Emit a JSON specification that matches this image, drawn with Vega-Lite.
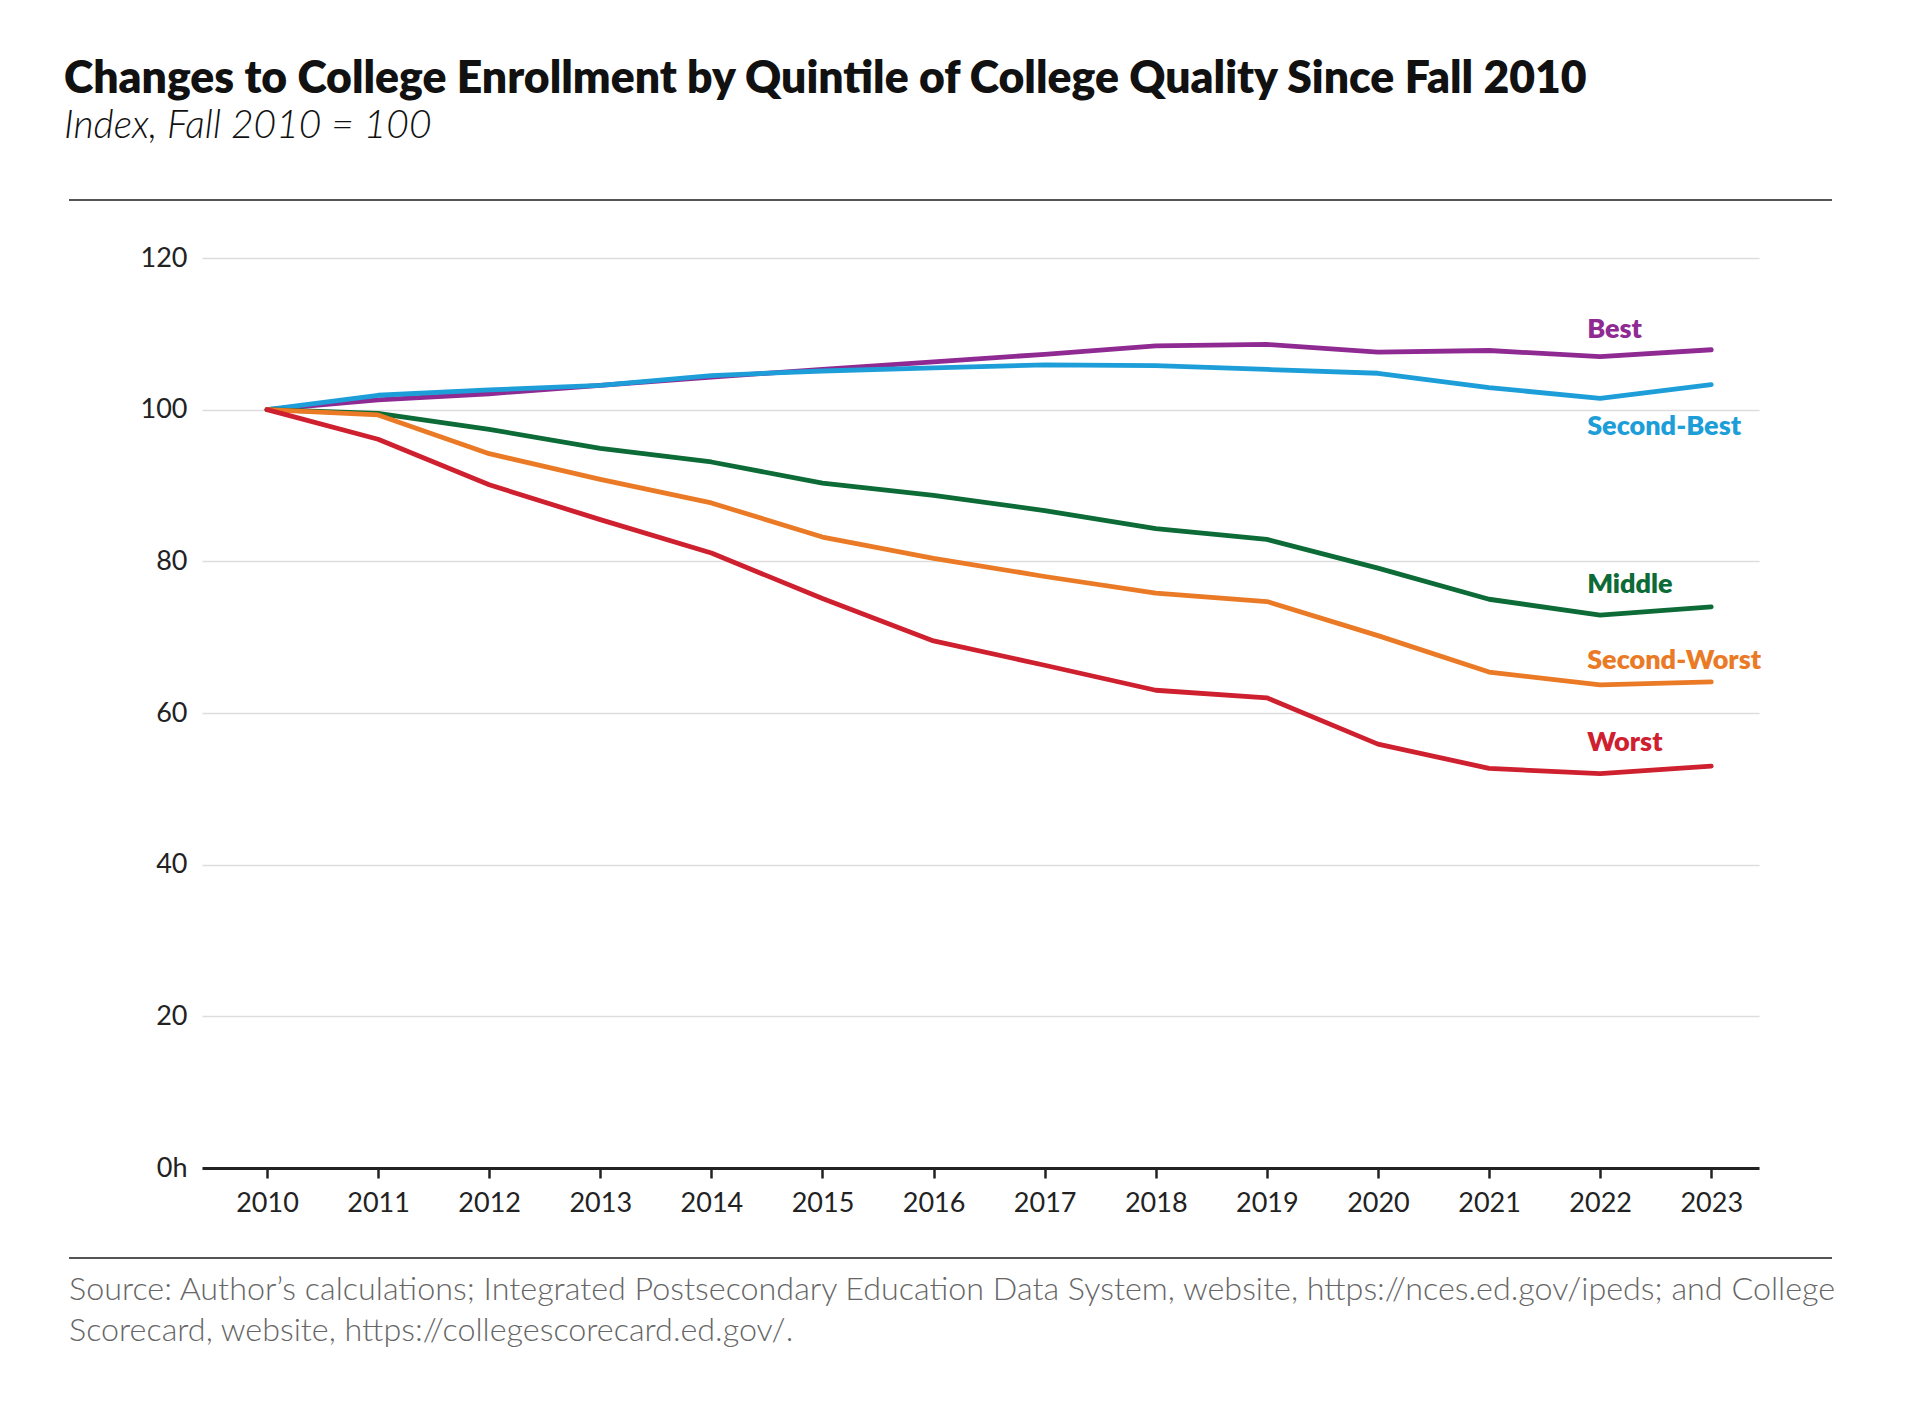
{
  "$schema": "https://vega.github.io/schema/vega-lite/v6.json",
  "description": "Changes to college enrollment by quintile of college quality since fall 2010, index Fall 2010 = 100.",
  "width": 1557,
  "height": 910,
  "autosize": {"type": "none"},
  "padding": {"left": 202, "top": 258, "right": 161, "bottom": 257},
  "background": "white",
  "view": {"stroke": null},
  "title": {
    "text": "Changes to College Enrollment by Quintile of College Quality Since Fall 2010",
    "subtitle": "Index, Fall 2010 = 100",
    "anchor": "start",
    "frame": "group",
    "dx": -138,
    "offset": 52,
    "font": "Lato",
    "fontSize": 44.5,
    "fontWeight": 800,
    "color": "#111111",
    "subtitleFont": "Lato",
    "subtitleFontSize": 39,
    "subtitleFontStyle": "italic",
    "subtitleFontWeight": 300,
    "subtitleColor": "#111111",
    "subtitlePadding": 4
  },
  "datasets": {
    "enrollment": [
      {"year": 2010, "series": "Best", "value": 100},
      {"year": 2011, "series": "Best", "value": 101.3},
      {"year": 2012, "series": "Best", "value": 102.1},
      {"year": 2013, "series": "Best", "value": 103.2},
      {"year": 2014, "series": "Best", "value": 104.3},
      {"year": 2015, "series": "Best", "value": 105.3},
      {"year": 2016, "series": "Best", "value": 106.3},
      {"year": 2017, "series": "Best", "value": 107.3},
      {"year": 2018, "series": "Best", "value": 108.4},
      {"year": 2019, "series": "Best", "value": 108.6},
      {"year": 2020, "series": "Best", "value": 107.6},
      {"year": 2021, "series": "Best", "value": 107.8},
      {"year": 2022, "series": "Best", "value": 107.0},
      {"year": 2023, "series": "Best", "value": 107.9},
      {"year": 2010, "series": "Second-Best", "value": 100},
      {"year": 2011, "series": "Second-Best", "value": 101.9},
      {"year": 2012, "series": "Second-Best", "value": 102.6},
      {"year": 2013, "series": "Second-Best", "value": 103.2},
      {"year": 2014, "series": "Second-Best", "value": 104.5},
      {"year": 2015, "series": "Second-Best", "value": 105.1},
      {"year": 2016, "series": "Second-Best", "value": 105.5},
      {"year": 2017, "series": "Second-Best", "value": 105.9},
      {"year": 2018, "series": "Second-Best", "value": 105.8},
      {"year": 2019, "series": "Second-Best", "value": 105.3},
      {"year": 2020, "series": "Second-Best", "value": 104.8},
      {"year": 2021, "series": "Second-Best", "value": 102.9},
      {"year": 2022, "series": "Second-Best", "value": 101.5},
      {"year": 2023, "series": "Second-Best", "value": 103.3},
      {"year": 2010, "series": "Middle", "value": 100},
      {"year": 2011, "series": "Middle", "value": 99.5},
      {"year": 2012, "series": "Middle", "value": 97.4},
      {"year": 2013, "series": "Middle", "value": 94.9},
      {"year": 2014, "series": "Middle", "value": 93.1},
      {"year": 2015, "series": "Middle", "value": 90.3},
      {"year": 2016, "series": "Middle", "value": 88.7},
      {"year": 2017, "series": "Middle", "value": 86.7},
      {"year": 2018, "series": "Middle", "value": 84.3},
      {"year": 2019, "series": "Middle", "value": 82.9},
      {"year": 2020, "series": "Middle", "value": 79.1},
      {"year": 2021, "series": "Middle", "value": 75.0},
      {"year": 2022, "series": "Middle", "value": 72.9},
      {"year": 2023, "series": "Middle", "value": 74.0},
      {"year": 2010, "series": "Second-Worst", "value": 100},
      {"year": 2011, "series": "Second-Worst", "value": 99.3},
      {"year": 2012, "series": "Second-Worst", "value": 94.2},
      {"year": 2013, "series": "Second-Worst", "value": 90.8},
      {"year": 2014, "series": "Second-Worst", "value": 87.7},
      {"year": 2015, "series": "Second-Worst", "value": 83.2},
      {"year": 2016, "series": "Second-Worst", "value": 80.4},
      {"year": 2017, "series": "Second-Worst", "value": 78.0},
      {"year": 2018, "series": "Second-Worst", "value": 75.8},
      {"year": 2019, "series": "Second-Worst", "value": 74.7},
      {"year": 2020, "series": "Second-Worst", "value": 70.2},
      {"year": 2021, "series": "Second-Worst", "value": 65.4},
      {"year": 2022, "series": "Second-Worst", "value": 63.7},
      {"year": 2023, "series": "Second-Worst", "value": 64.1},
      {"year": 2010, "series": "Worst", "value": 100},
      {"year": 2011, "series": "Worst", "value": 96.1},
      {"year": 2012, "series": "Worst", "value": 90.1},
      {"year": 2013, "series": "Worst", "value": 85.5},
      {"year": 2014, "series": "Worst", "value": 81.1},
      {"year": 2015, "series": "Worst", "value": 75.1},
      {"year": 2016, "series": "Worst", "value": 69.5},
      {"year": 2017, "series": "Worst", "value": 66.3},
      {"year": 2018, "series": "Worst", "value": 63.0},
      {"year": 2019, "series": "Worst", "value": 62.0},
      {"year": 2020, "series": "Worst", "value": 55.9},
      {"year": 2021, "series": "Worst", "value": 52.7},
      {"year": 2022, "series": "Worst", "value": 52.0},
      {"year": 2023, "series": "Worst", "value": 53.0}
    ],
    "labels": [
      {"series": "Best", "year": 2022, "value": 110.5},
      {"series": "Second-Best", "year": 2022, "value": 97.7},
      {"series": "Middle", "year": 2022, "value": 76.9},
      {"series": "Second-Worst", "year": 2022, "value": 66.9},
      {"series": "Worst", "year": 2022, "value": 56.1}
    ],
    "frame": [
      {"part": "top", "start": 2008.218, "end": 2024.087, "value": 127.65},
      {"part": "bottom", "start": 2008.218, "end": 2024.087, "value": -11.87}
    ],
    "note": [
      {"year": 2008.218, "value": -17.4}
    ]
  },
  "layer": [
    {
      "data": {"name": "enrollment"},
      "mark": {"type": "line", "strokeWidth": 4.8, "strokeJoin": "round", "strokeCap": "round"},
      "encoding": {
        "x": {
          "field": "year",
          "type": "quantitative",
          "scale": {"domain": [2009.415, 2023.43], "nice": false, "zero": false},
          "axis": {
            "values": [2010, 2011, 2012, 2013, 2014, 2015, 2016, 2017, 2018, 2019, 2020, 2021, 2022, 2023],
            "format": "d",
            "title": null,
            "grid": false,
            "domainColor": "#222222",
            "domainWidth": 3,
            "tickColor": "#222222",
            "tickWidth": 2.5,
            "tickSize": 10,
            "labelFont": "Lato",
            "labelFontSize": 27,
            "labelColor": "#222222",
            "labelPadding": 12
          }
        },
        "y": {
          "field": "value",
          "type": "quantitative",
          "scale": {"domain": [0, 120], "nice": false},
          "axis": {
            "values": [0, 20, 40, 60, 80, 100, 120],
            "labelExpr": "datum.value === 0 ? '0h' : datum.label",
            "title": null,
            "domain": false,
            "ticks": false,
            "grid": true,
            "gridColor": "#dddddd",
            "gridWidth": 1.5,
            "labelFont": "Lato",
            "labelFontSize": 27,
            "labelColor": "#222222",
            "labelPadding": 15
          }
        },
        "color": {
          "field": "series",
          "type": "nominal",
          "scale": {
            "domain": ["Best", "Second-Best", "Middle", "Second-Worst", "Worst"],
            "range": ["#8f2a92", "#1d9ed8", "#0c6b36", "#ea7a25", "#cf2030"]
          },
          "legend": null
        }
      }
    },
    {
      "data": {"name": "labels"},
      "mark": {"type": "text", "align": "left", "baseline": "middle", "dx": -13, "font": "Lato", "fontSize": 27, "fontWeight": 800},
      "encoding": {
        "x": {"field": "year", "type": "quantitative"},
        "y": {"field": "value", "type": "quantitative"},
        "text": {"field": "series"},
        "color": {"field": "series", "type": "nominal"}
      }
    },
    {
      "data": {"name": "frame"},
      "mark": {"type": "rule", "color": "#555555", "strokeWidth": 2, "clip": false},
      "encoding": {
        "x": {"field": "start", "type": "quantitative"},
        "x2": {"field": "end"},
        "y": {"field": "value", "type": "quantitative"}
      }
    },
    {
      "data": {"name": "note"},
      "mark": {
        "type": "text",
        "align": "left",
        "baseline": "alphabetic",
        "clip": false,
        "font": "Lato",
        "fontSize": 32.3,
        "fontWeight": 300,
        "color": "#666666",
        "lineHeight": 41,
        "text": [
          "Source: Author’s calculations; Integrated Postsecondary Education Data System, website, https://nces.ed.gov/ipeds; and College",
          "Scorecard, website, https://collegescorecard.ed.gov/."
        ]
      },
      "encoding": {
        "x": {"field": "year", "type": "quantitative"},
        "y": {"field": "value", "type": "quantitative"}
      }
    }
  ]
}
